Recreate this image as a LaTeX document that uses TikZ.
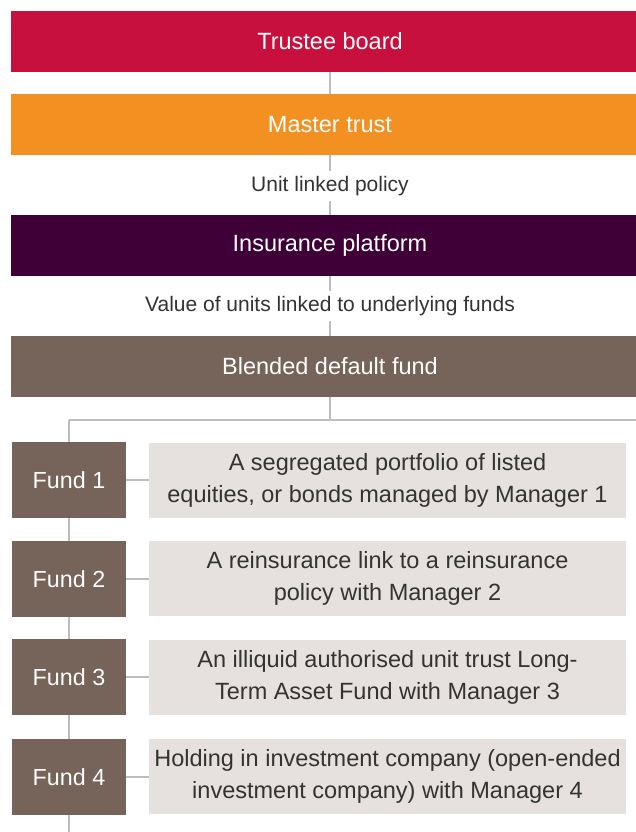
\documentclass[tikz,border=0pt]{standalone}
\usepackage{fontspec}
\setmainfont{Liberation Sans}
\usetikzlibrary{backgrounds}
\definecolor{trusteered}{HTML}{C8103E}
\definecolor{masterorange}{HTML}{F39022}
\definecolor{platformpurple}{HTML}{3E0036}
\definecolor{fundbrown}{HTML}{766359}
\definecolor{descgrey}{HTML}{E6E1DE}
\definecolor{linkgrey}{HTML}{BDBDBD}
\definecolor{labeltext}{HTML}{333333}
\begin{document}
\begin{tikzpicture}[x=1pt,y=-1pt,
  band/.style={rectangle,inner sep=0pt,minimum width=638pt,minimum height=61pt,
    text=white,font=\fontsize{23.5}{26}\selectfont},
  fundbox/.style={rectangle,inner sep=0pt,minimum width=114pt,minimum height=76pt,
    fill=fundbrown,text=white,font=\fontsize{23.3}{26}\selectfont},
  descbox/.style={rectangle,inner sep=0pt,minimum width=477pt,minimum height=75pt,
    fill=descgrey,text=labeltext,align=center,font=\fontsize{23.5}{32}\selectfont},
  flowlabel/.style={fill=white,inner xsep=2pt,inner ysep=5pt,text=labeltext,
    font=\fontsize{21}{24}\selectfont},
  link/.style={draw=linkgrey,line width=1.4pt}]
\useasboundingbox (0,0) rectangle (636,832);

% main chain of bands
\node[band,fill=trusteered]     (trustee)  at (330,41.5)  {Trustee board};
\node[band,fill=masterorange]   (master)   at (330,124.5) {Master trust};
\node[band,fill=platformpurple] (platform) at (330,245.5) {Insurance platform};
\node[band,fill=fundbrown]      (blended)  at (330,366.5) {Blended default fund};

% underlying funds and their descriptions
\node[fundbox] (f1) at (69,480) {Fund 1};
\node[fundbox] (f2) at (69,579) {Fund 2};
\node[fundbox] (f3) at (69,677) {Fund 3};
\node[fundbox] (f4) at (69,777) {Fund 4};
\node[descbox] (d1) at (387.5,480) {A segregated portfolio of listed\\equities, or bonds managed by Manager 1};
\node[descbox] (d2) at (387.5,578) {A reinsurance link to a reinsurance\\policy with Manager 2};
\node[descbox] (d3) at (387.5,677) {An illiquid authorised unit trust Long-\\Term Asset Fund with Manager 3};
\node[descbox] (d4) at (387.5,776.5) {Holding in investment company (open-ended\\investment company) with Manager 4};

% branching points
\coordinate (split)  at (330,420);
\coordinate (left)   at (69,420);
\coordinate (right)  at (640,420);
\coordinate (bottom) at (69,834);

% connectors, drawn behind the boxes
\begin{scope}[on background layer]
  \draw[link] (trustee.south) -- (master.north);
  \draw[link] (master.south) -- (platform.north);
  \draw[link] (platform.south) -- (blended.north);
  \draw[link] (blended.south) -- (split);
  \draw[link] (left) -- (right);
  \draw[link] (left) -- (bottom);
  \draw[link] (f1.east) -- (d1.west);
  \draw[link] (f2.east) -- (d2.west |- f2.east);
  \draw[link] (f3.east) -- (d3.west);
  \draw[link] (f4.east) -- (d4.west |- f4.east);
\end{scope}

% labels on the links
\node[flowlabel] (unitlabel)  at (330,186) {Unit linked policy};
\node[flowlabel] (valuelabel) at (330,306) {Value of units linked to underlying funds};
\end{tikzpicture}
\end{document}
